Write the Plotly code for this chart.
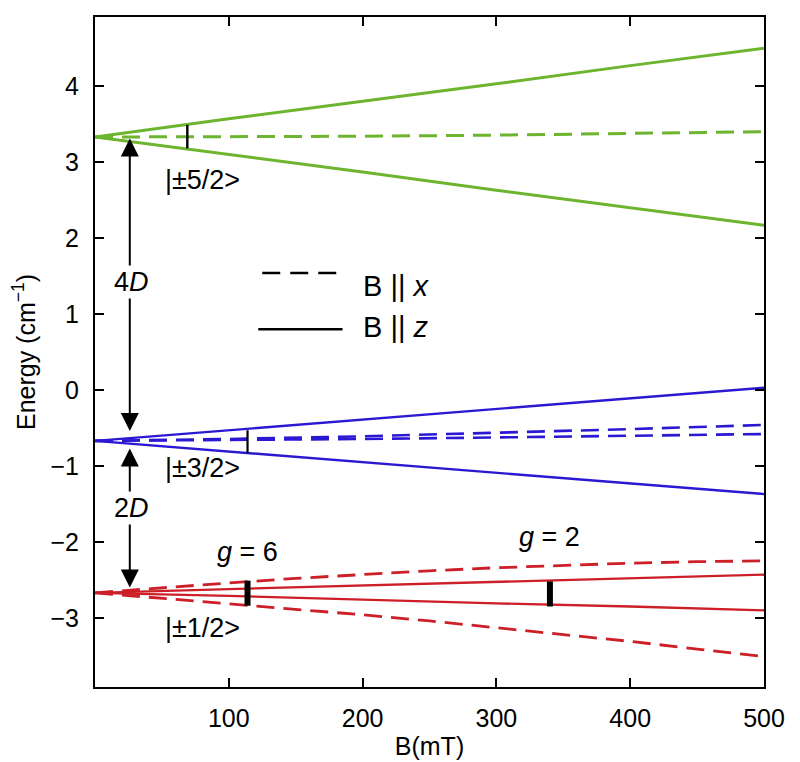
import plotly.graph_objects as go

# Field values (mT)
B = [0, 100, 200, 300, 400, 500]
B_fine = [0, 50, 100, 150, 200, 250, 300, 350, 400, 450, 500]

# |±5/2> (green)
green_z_up = [3.33, 3.57, 3.80, 4.03, 4.27, 4.50]
green_z_dn = [3.33, 3.10, 2.87, 2.63, 2.40, 2.17]
green_x = [3.33, 3.335, 3.34, 3.355, 3.375, 3.40]
# |±3/2> (blue)
blue_z_up = [-0.67, -0.53, -0.39, -0.25, -0.11, 0.03]
blue_z_dn = [-0.67, -0.81, -0.95, -1.09, -1.23, -1.37]
blue_x_up = [-0.67, -0.645, -0.61, -0.565, -0.515, -0.46]
blue_x_dn = [-0.67, -0.66, -0.645, -0.625, -0.605, -0.58]
# |±1/2> (red)
red_z_up = [-2.67, -2.62, -2.57, -2.53, -2.48, -2.43]
red_z_dn = [-2.67, -2.71, -2.76, -2.81, -2.85, -2.90]
red_x_up = [-2.67, -2.60, -2.54, -2.48, -2.43, -2.38, -2.34, -2.31, -2.28, -2.26, -2.25]
red_x_dn = [-2.67, -2.74, -2.81, -2.88, -2.96, -3.04, -3.13, -3.22, -3.31, -3.41, -3.51]

# Resonance transitions
trans_B = [69, 114, 114, 340]
trans_lo = [3.18, -0.83, -2.84, -2.85]
trans_hi = [3.49, -0.53, -2.51, -2.52]
trans_w = [2.4, 2.2, 6, 6]

GREEN = "#6db52e"
BLUE = "#2a18d2"
RED = "#cc1f27"
DASH = "18px,9px"
FONT = "Liberation Sans, Arial, sans-serif"

fig = go.Figure()

def add(x, y, color, width, dash=None):
    fig.add_trace(go.Scatter(x=x, y=y, mode="lines",
                             line=dict(color=color, width=width, dash=dash or "solid"),
                             showlegend=False, hoverinfo="skip"))

add(B, green_z_up, GREEN, 3)
add(B, green_z_dn, GREEN, 3)
add(B, green_x, GREEN, 3, DASH)
add(B, blue_z_up, BLUE, 2.4)
add(B, blue_z_dn, BLUE, 2.4)
add(B, blue_x_up, BLUE, 2.6, DASH)
add(B, blue_x_dn, BLUE, 2.6, DASH)
add(B, red_z_up, RED, 2.3)
add(B, red_z_dn, RED, 2.3)
add(B_fine, red_x_up, RED, 2.8, DASH)
add(B_fine, red_x_dn, RED, 2.8, DASH)

for bx, lo, hi, w in zip(trans_B, trans_lo, trans_hi, trans_w):
    add([bx, bx], [lo, hi], "black", w)

# legend samples
add([125, 181], [1.54, 1.54], "black", 2.6, "18px,10px")
add([122, 185], [0.80, 0.80], "black", 2.6)

ann = []
# arrows
ann.append(dict(x=26, y=3.31, ax=26, ay=-0.56, xref="x", yref="y", axref="x", ayref="y",
                showarrow=True, arrowside="end+start", arrowhead=2, arrowsize=1.8,
                arrowwidth=2, arrowcolor="black", text=""))
ann.append(dict(x=26, y=-0.77, ax=26, ay=-2.62, xref="x", yref="y", axref="x", ayref="y",
                showarrow=True, arrowside="end+start", arrowhead=2, arrowsize=1.8,
                arrowwidth=2, arrowcolor="black", text=""))

def txt(x, y, s, size=26, xanchor="center"):
    ann.append(dict(x=x, y=y, xref="x", yref="y", text=s, showarrow=False,
                    xanchor=xanchor, yanchor="middle",
                    font=dict(size=size, color="black", family=FONT)))

ann.append(dict(x=27, y=1.42, xref="x", yref="y", text="4<i>D</i>", showarrow=False,
                bgcolor="white", font=dict(size=27, color="black", family=FONT)))
ann.append(dict(x=27, y=-1.55, xref="x", yref="y", text="2<i>D</i>", showarrow=False,
                bgcolor="white", font=dict(size=27, color="black", family=FONT)))
txt(51, 2.76, "|±5/2>", 27, "left")
txt(51, -1.03, "|±3/2>", 27, "left")
txt(51, -3.13, "|±1/2>", 27, "left")
txt(114, -2.13, "<i>g</i> = 6", 27)
txt(340, -1.93, "<i>g</i> = 2", 27)
txt(199, 1.37, "B || <i>x</i>", 29, "left")
txt(199, 0.83, "B || <i>z</i>", 29, "left")

# Page body adds an 8px offset; margins compensate
fig.update_layout(
    width=800, height=762,
    margin=dict(l=87, r=44, t=9, b=83),
    plot_bgcolor="white", paper_bgcolor="white",
    font=dict(family=FONT, size=25, color="black"),
    annotations=ann,
    showlegend=False,
)
fig.update_xaxes(range=[0, 500], tickvals=[100, 200, 300, 400, 500],
                 showline=True, linecolor="black", linewidth=2, mirror="ticks",
                 ticks="inside", ticklen=9, tickwidth=2, tickcolor="black",
                 showgrid=False, zeroline=False, automargin=False,
                 tickfont=dict(size=25), ticklabelstandoff=8,
                 title=dict(text="B(mT)", font=dict(size=25), standoff=6))
fig.update_yaxes(range=[-3.91, 4.91], tickvals=[-3, -2, -1, 0, 1, 2, 3, 4],
                 showline=True, linecolor="black", linewidth=2, mirror="ticks",
                 ticks="inside", ticklen=9, tickwidth=2, tickcolor="black",
                 showgrid=False, zeroline=False, automargin=False,
                 tickfont=dict(size=25), ticklabelstandoff=9,
                 title=dict(text="Energy (cm<sup>−1</sup>)", font=dict(size=25), standoff=8))

fig.write_html("out.html")
